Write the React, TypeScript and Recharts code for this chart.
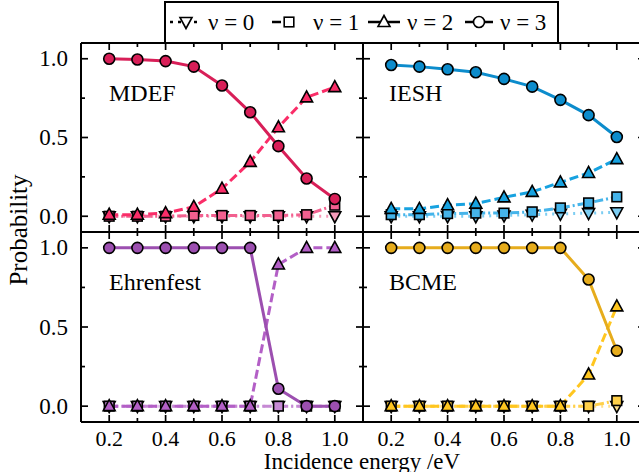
import React from 'react';
import { LineChart, Line, XAxis, YAxis } from 'recharts';

const energies = [0.2, 0.3, 0.4, 0.5, 0.6, 0.7, 0.8, 0.9, 1.0];

const mdefV0 = [0.0, 0.0, 0.0, 0.0, 0.0, 0.0, 0.0, 0.0, 0.0];
const mdefV1 = [0.0, 0.0, 0.0, 0.005, 0.005, 0.005, 0.005, 0.01, 0.07];
const mdefV2 = [0.01, 0.01, 0.02, 0.06, 0.175, 0.345, 0.565, 0.755, 0.82];
const mdefV3 = [1.0, 0.995, 0.985, 0.95, 0.83, 0.66, 0.445, 0.24, 0.11];

const ieshV0 = [0.0, 0.0, 0.0, 0.0, 0.005, 0.01, 0.015, 0.02, 0.025];
const ieshV1 = [0.01, 0.01, 0.017, 0.02, 0.02, 0.028, 0.053, 0.085, 0.123];
const ieshV2 = [0.047, 0.047, 0.07, 0.08, 0.12, 0.155, 0.215, 0.275, 0.363];
const ieshV3 = [0.96, 0.95, 0.933, 0.914, 0.872, 0.823, 0.739, 0.642, 0.503];

const ehrV0 = [0.0, 0.0, 0.0, 0.0, 0.0, 0.0, 0.0, 0.0, 0.0];
const ehrV1 = [0.0, 0.0, 0.0, 0.0, 0.0, 0.0, 0.0, 0.0, 0.0];
const ehrV2 = [0.0, 0.0, 0.0, 0.0, 0.0, 0.0, 0.895, 1.0, 1.0];
const ehrV3 = [1.0, 1.0, 1.0, 1.0, 1.0, 1.0, 0.11, 0.0, 0.0];

const bcmeV0 = [0.0, 0.0, 0.0, 0.0, 0.0, 0.0, 0.0, 0.0, 0.0];
const bcmeV1 = [0.0, 0.0, 0.0, 0.0, 0.0, 0.0, 0.0, 0.0, 0.035];
const bcmeV2 = [0.0, 0.0, 0.0, 0.0, 0.0, 0.0, 0.0, 0.2, 0.63];
const bcmeV3 = [1.0, 1.0, 1.0, 1.0, 1.0, 1.0, 1.0, 0.8, 0.35];

const xTicks = [0.2, 0.3, 0.4, 0.5, 0.6, 0.7, 0.8, 0.9, 1.0];
const xMajor = [0.2, 0.4, 0.6, 0.8, 1.0];
const yTicks = [0, 0.25, 0.5, 0.75, 1.0];
const yMajor = [0, 0.5, 1.0];

const legendLabels = ['ν = 0', 'ν = 1', 'ν = 2', 'ν = 3'];
const panelNames = ['MDEF', 'IESH', 'Ehrenfest', 'BCME'];
const xAxisTitle = 'Incidence energy /eV';
const yAxisTitle = 'Probability';

const FONT = '"Liberation Serif", "Times New Roman", serif';
const CW = 650;
const CH = 472;
const AX = 1; // axis thickness reserved by recharts

const palettes = [
  ['#f59bb9', '#f2608f', '#fa2d68', '#d81f58'],
  ['#7ccdf2', '#45b4ea', '#17a2e0', '#0c8ccc'],
  ['#dcb3e6', '#c68ad4', '#b35fc6', '#9c4fb0'],
  ['#ffe08a', '#ffd04a', '#ffc61f', '#e6ac1c'],
];

const dashes = ['2 5', '9 3 2 3', '9 4', undefined];
const shapes = ['down', 'square', 'up', 'circle'];

const panelSeries = [
  [mdefV0, mdefV1, mdefV2, mdefV3],
  [ieshV0, ieshV1, ieshV2, ieshV3],
  [ehrV0, ehrV1, ehrV2, ehrV3],
  [bcmeV0, bcmeV1, bcmeV2, bcmeV3],
];

// panel plot areas [left, top, right, bottom]
const panelBoxes = [
  [81, 43, 363, 232],
  [363, 43, 645, 232],
  [81, 232, 363, 422],
  [363, 232, 645, 422],
];

const near = (arr: number[], v: number) => arr.some((m) => Math.abs(m - v) < 1e-6);

function Marker({ shape, cx, cy, fill, stroke }: any) {
  if (cx == null || cy == null) return null;
  const sw = 1.6;
  if (shape === 'circle') return <circle cx={cx} cy={cy} r={5.5} fill={fill} stroke={stroke} strokeWidth={sw} />;
  if (shape === 'square') return <rect x={cx - 4.8} y={cy - 4.8} width={9.6} height={9.6} fill={fill} stroke={stroke} strokeWidth={sw} />;
  if (shape === 'up')
    return <polygon points={`${cx},${cy - 6.5} ${cx - 6},${cy + 4.5} ${cx + 6},${cy + 4.5}`} fill={fill} stroke={stroke} strokeWidth={sw} strokeLinejoin="miter" />;
  return <polygon points={`${cx},${cy + 6.5} ${cx - 6},${cy - 4.5} ${cx + 6},${cy - 4.5}`} fill={fill} stroke={stroke} strokeWidth={sw} strokeLinejoin="miter" />;
}

const makeTick = (side: string, showLabel: boolean) => (props: any) => {
  const { x, y, payload } = props;
  const v = payload.value;
  const sw = 1.7;
  if (side === 'bottom' || side === 'top') {
    const major = near(xMajor, v);
    const len = major ? 7 : 4;
    const dir = side === 'bottom' ? -1 : 1;
    return (
      <g>
        <line x1={x} x2={x} y1={y} y2={y + dir * len} stroke="#000" strokeWidth={sw} />
        {showLabel && major && (
          <text x={x} y={y + 16} textAnchor="middle" dominantBaseline="central" fontFamily={FONT} fontSize={22} fill="#000">
            {v.toFixed(1)}
          </text>
        )}
      </g>
    );
  }
  const major = near(yMajor, v);
  const len = major ? 7 : 4;
  const dir = side === 'left' ? 1 : -1;
  return (
    <g>
      <line x1={x} x2={x + dir * len} y1={y} y2={y} stroke="#000" strokeWidth={sw} />
      {showLabel && major && (
        <text x={x - 13} y={y} textAnchor="end" dominantBaseline="central" fontFamily={FONT} fontSize={23} fill="#000">
          {v.toFixed(1)}
        </text>
      )}
    </g>
  );
};

function Panel({ idx }: { idx: number }) {
  const [l, t, r, b] = panelBoxes[idx];
  const series = panelSeries[idx];
  const colors = palettes[idx];
  const data = energies.map((e, i) => ({ x: e, v0: series[0][i], v1: series[1][i], v2: series[2][i], v3: series[3][i] }));
  const isLeft = idx % 2 === 0;
  const isBottom = idx >= 2;
  const axisLine = { stroke: '#000', strokeWidth: 2 };
  return (
    <div style={{ position: 'absolute', left: 0, top: 0 }}>
      <LineChart width={CW} height={CH} data={data} margin={{ left: l - AX, top: t - AX, right: CW - r - AX, bottom: CH - b - AX }}>
        <XAxis xAxisId={0} dataKey="x" type="number" domain={[0.1, 1.1]} ticks={xTicks} interval={0} orientation="bottom" height={AX} tickSize={0} tickMargin={0} tickLine={false} axisLine={axisLine} tick={makeTick('bottom', isBottom)} />
        <XAxis xAxisId="top" dataKey="x" type="number" domain={[0.1, 1.1]} ticks={xTicks} interval={0} orientation="top" height={AX} tickSize={0} tickMargin={0} tickLine={false} axisLine={axisLine} tick={makeTick('top', false)} />
        <YAxis yAxisId={0} type="number" domain={[-0.1, 1.1]} ticks={yTicks} interval={0} orientation="left" width={AX} tickSize={0} tickMargin={0} tickLine={false} axisLine={axisLine} tick={makeTick('left', isLeft)} />
        <YAxis yAxisId="r" type="number" domain={[-0.1, 1.1]} ticks={yTicks} interval={0} orientation="right" width={AX} tickSize={0} tickMargin={0} tickLine={false} axisLine={axisLine} tick={makeTick('right', false)} />
        <Line xAxisId="top" yAxisId="r" dataKey="v3" stroke="none" strokeWidth={0} dot={false} activeDot={false} isAnimationActive={false} legendType="none" />
        {[0, 1, 2, 3].map((k) => (
          <Line
            key={k}
            xAxisId={0}
            yAxisId={0}
            dataKey={`v${k}`}
            type="linear"
            stroke={colors[k]}
            strokeWidth={3}
            strokeDasharray={dashes[k]}
            isAnimationActive={false}
            dot={(p: any) => <Marker key={`d${k}-${p.index}`} shape={shapes[k]} cx={p.cx} cy={p.cy} fill={colors[k]} stroke="#000" />}
            activeDot={false}
          />
        ))}
      </LineChart>
    </div>
  );
}

function Overlay() {
  const legendItems = [
    { x0: 170, x1: 202, mx: 186, tx: 208 },
    { x0: 272, x1: 307, mx: 289, tx: 313 },
    { x0: 368, x1: 400, mx: 384, tx: 407 },
    { x0: 465, x1: 493, mx: 479, tx: 500 },
  ];
  const legendDash = ['3 5', '9 9 3 20', undefined, undefined];
  return (
    <svg width={639} height={472} style={{ position: 'absolute', left: 0, top: 0 }}>
      <rect x={165} y={2} width={393} height={41} fill="#fff" stroke="#000" strokeWidth={2} />
      {legendItems.map((it, k) => (
        <g key={k}>
          <line x1={it.x0} x2={it.x1} y1={22} y2={22} stroke="#000" strokeWidth={2.5} strokeDasharray={legendDash[k]} />
          <Marker shape={shapes[k]} cx={it.mx} cy={22} fill="#fff" stroke="#000" />
          <text x={it.tx} y={22} dominantBaseline="central" fontFamily={FONT} fontSize={23} fill="#000">
            {legendLabels[k]}
          </text>
        </g>
      ))}
      <text x={109} y={93} dominantBaseline="central" fontFamily={FONT} fontSize={24} fill="#000">{panelNames[0]}</text>
      <text x={389} y={93} dominantBaseline="central" fontFamily={FONT} fontSize={24} fill="#000">{panelNames[1]}</text>
      <text x={109} y={282} dominantBaseline="central" fontFamily={FONT} fontSize={24} fill="#000">{panelNames[2]}</text>
      <text x={389} y={282} dominantBaseline="central" fontFamily={FONT} fontSize={24} fill="#000">{panelNames[3]}</text>
      <text x={362} y={461} textAnchor="middle" dominantBaseline="central" fontFamily={FONT} fontSize={23} fill="#000">{xAxisTitle}</text>
      <text x={18} y={230} textAnchor="middle" dominantBaseline="central" fontFamily={FONT} fontSize={25} fill="#000" transform="rotate(-90 18 230)">{yAxisTitle}</text>
    </svg>
  );
}

export default function App() {
  return (
    <div style={{ position: 'absolute', left: 0, top: 0, width: 639, height: 472, overflow: 'hidden', background: '#fff' }}>
      {[0, 1, 2, 3].map((i) => (
        <Panel key={i} idx={i} />
      ))}
      <Overlay />
    </div>
  );
}
